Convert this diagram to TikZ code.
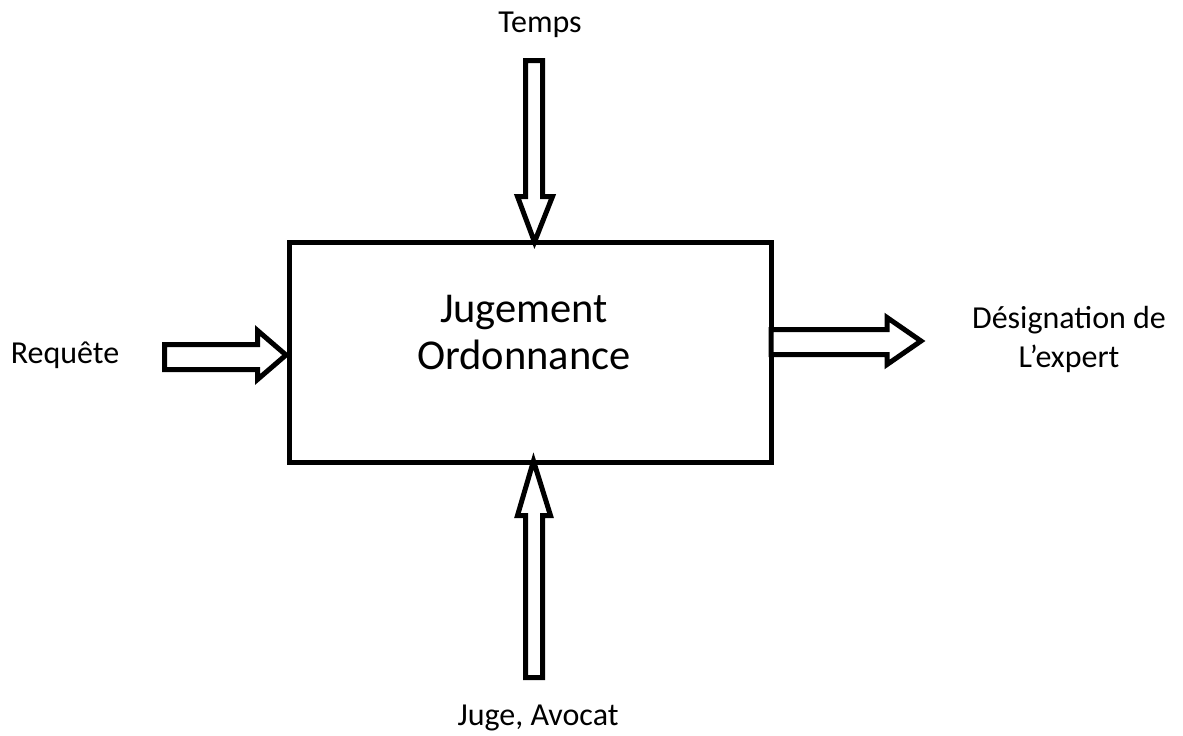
\documentclass[tikz,border=0pt]{standalone}
\usepackage{fontspec}
\setmainfont{Carlito}
\begin{document}
\begin{tikzpicture}[x=1pt,y=-1pt,
  outl/.style={line width=5pt, draw=black, fill=white, line join=miter},
  lbl/.style={font=\fontsize{32}{39}\selectfont, align=center, inner sep=0pt},
  big/.style={font=\fontsize{42.5}{47}\selectfont, align=center, inner sep=0pt}]
\useasboundingbox (0,0) rectangle (1183,736);
% box
\draw[outl] (289,242) rectangle (771,462);
\node[big] (boxtext) at (524,333) {Jugement\\Ordonnance};
% top arrow
\draw[outl] (525.5,60.5) -- (542.5,60.5) -- (542.5,196.5) -- (552.5,196.5) -- (534.5,242) -- (517.5,196.5) -- (525.5,196.5) -- cycle;
% left arrow
\draw[outl] (164.5,344.5) -- (257.5,344.5) -- (257.5,330.5) -- (286,355) -- (257.5,379.5) -- (257.5,369.5) -- (164.5,369.5) -- cycle;
% right arrow
\draw[outl] (771,329.5) -- (887,329.5) -- (887,317.5) -- (921,341) -- (887,364.5) -- (887,354.5) -- (771,354.5) -- cycle;
% bottom arrow
\draw[outl] (525.5,677.5) -- (542.5,677.5) -- (542.5,515.5) -- (550.5,515.5) -- (533.5,461) -- (517.5,515.5) -- (525.5,515.5) -- cycle;
% labels
\node[lbl] (temps) at (540,25) {Temps};
\node[lbl] (req) at (65,355) {Requête};
\node[lbl] (desig) at (1069,339) {Désignation de\\L’expert};
\node[lbl] (juge) at (538,718) {Juge, Avocat};
\end{tikzpicture}
\end{document}
